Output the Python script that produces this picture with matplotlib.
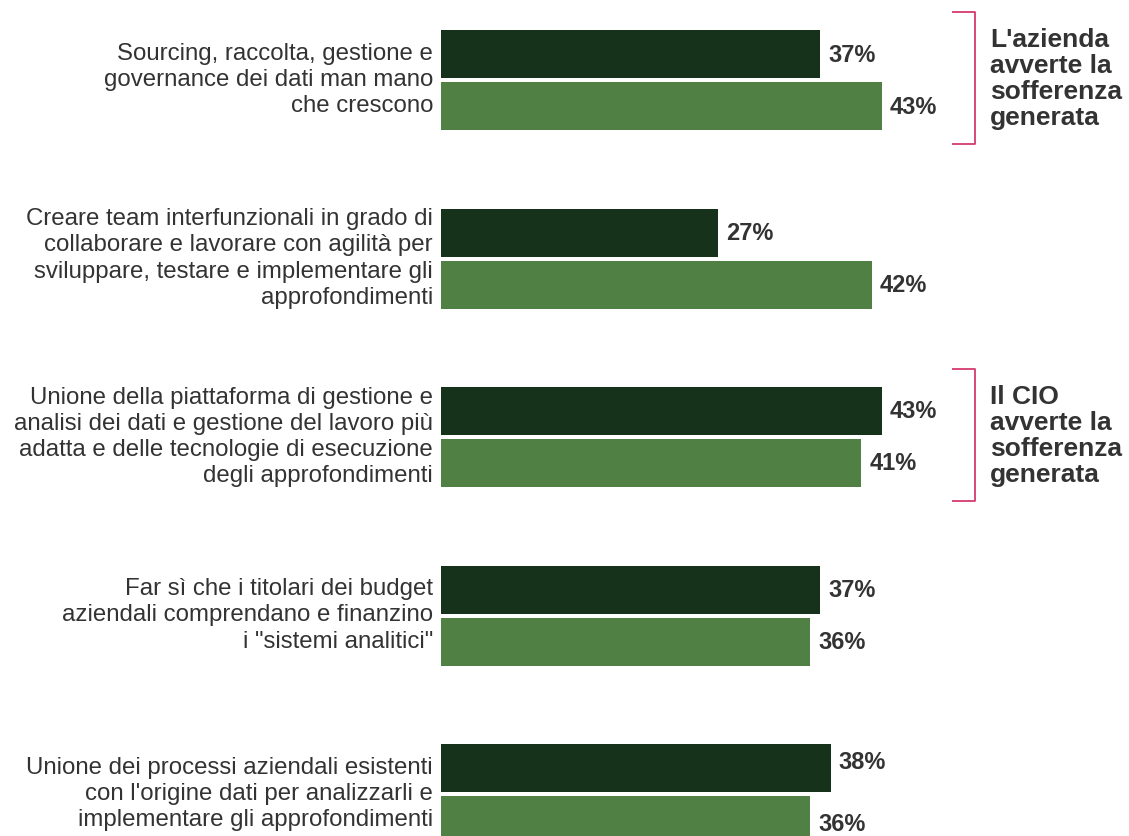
import numpy as np
import matplotlib.pyplot as plt

# Dati
categorie = [
    "Sourcing, raccolta, gestione e\ngovernance dei dati man mano\nche crescono",
    "Creare team interfunzionali in grado di\ncollaborare e lavorare con agilità per\nsviluppare, testare e implementare gli\napprofondimenti",
    "Unione della piattaforma di gestione e\nanalisi dei dati e gestione del lavoro più\nadatta e delle tecnologie di esecuzione\ndegli approfondimenti",
    "Far sì che i titolari dei budget\naziendali comprendano e finanzino\ni \"sistemi analitici\"",
    "Unione dei processi aziendali esistenti\ncon l'origine dati per analizzarli e\nimplementare gli approfondimenti",
]
serie_scure = [37, 27, 43, 37, 38]
serie_chiare = [43, 42, 41, 36, 36]
note = ["L'azienda\navverte la\nsofferenza\ngenerata", "Il CIO\navverte la\nsofferenza\ngenerata"]
note_gruppi = [0, 2]

SCURO = "#17321a"
CHIARO = "#508043"
TESTO = "#333333"
ROSA = "#d63a6f"

plt.rcParams['font.family'] = ['Liberation Sans', 'DejaVu Sans']

W, H = 1129, 837
fig = plt.figure(figsize=(W / 100, H / 100), dpi=100)
ax = fig.add_axes([441 / W, 0, 441 / W, 1])
ax.set_xlim(0, 43)
ax.set_ylim(756 / 178.5, -81 / 178.5)
ax.axis('off')

px = 43 / 441  # unità dati per pixel (asse x)
py = 1 / 178.5  # unità dati per pixel (asse y)

y = np.arange(len(categorie))
h = 48 * py
off = 26 * py
ax.barh(y - off, serie_scure, height=h, color=SCURO)
ax.barh(y + off, serie_chiare, height=h, color=CHIARO)

for i in range(len(categorie)):
    # l'ultimo gruppo ha le etichette un po' spostate (immagine tagliata in basso)
    d1, d2 = (-6 * py, 4 * py) if i == len(categorie) - 1 else (0, 0)
    ax.text(serie_scure[i] + 8 * px, y[i] - off + d1, f"{serie_scure[i]}%",
            va='center', ha='left', fontsize=17, fontweight='bold',
            color=TESTO, clip_on=False)
    ax.text(serie_chiare[i] + 8 * px, y[i] + off + d2, f"{serie_chiare[i]}%",
            va='center', ha='left', fontsize=17, fontweight='bold',
            color=TESTO, clip_on=False)
    ax.text(-8 * px, y[i] - 1 * py, categorie[i], va='center', ha='right',
            fontsize=17.3, color=TESTO, linespacing=1.25, clip_on=False)

# Parentesi e note
for testo, g in zip(note, note_gruppi):
    y0 = g - 68 * py
    y1 = g + 64 * py
    xb = 43 + (975 - 882) * px
    xt = 43 + (952 - 882) * px
    ax.plot([xt, xb, xb, xt], [y0, y0, y1, y1], color=ROSA, lw=1.3,
            clip_on=False, solid_capstyle='butt')
    ax.text(xb + 15 * px, g - 2 * py, testo, va='center', ha='left', fontsize=19,
            fontweight='bold', color=TESTO, linespacing=1.11, clip_on=False)

plt.savefig("out.png", dpi=100)
